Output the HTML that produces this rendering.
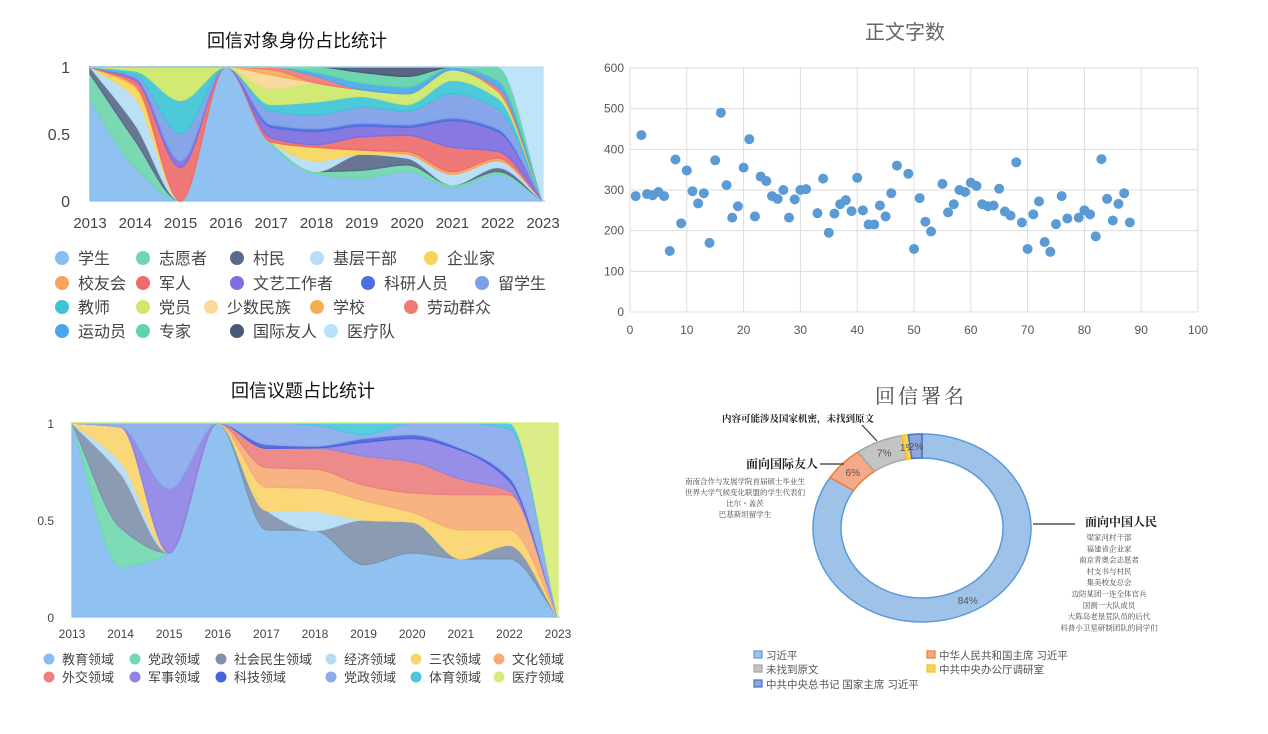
<!DOCTYPE html>
<html><head><meta charset="utf-8">
<style>
body{margin:0;width:1268px;height:734px;background:#fff;overflow:hidden;font-family:"Liberation Sans","Noto Sans CJK SC",sans-serif;}
svg{position:absolute;left:0;top:0}
</style></head>
<body>
<svg id="s" width="1268" height="734"></svg>
<script>
const NS="http://www.w3.org/2000/svg";
const svg=document.getElementById('s');
function el(tag,attrs,parent,text){const e=document.createElementNS(NS,tag);for(const k in attrs)e.setAttribute(k,attrs[k]);if(text!==undefined)e.textContent=text;(parent||svg).appendChild(e);return e;}

// ===== Chart 1 data =====
const years=[2013,2014,2015,2016,2017,2018,2019,2020,2021,2022,2023];
const c1Names=['学生','志愿者','村民','基层干部','企业家','校友会','军人','文艺工作者','科研人员','留学生','教师','党员','少数民族','学校','劳动群众','运动员','专家','国际友人','医疗队'];
const c1Colors=['#87bdf0','#6fd6ad','#5a6a8a','#b5ddf5','#f7d55a','#f7a25e','#ee6c6c','#7e6ee0','#4b6fe0','#7d9ee8','#3fc4d6','#cde86a','#fbd79a','#f5ad52','#f07a74','#4aa8ea','#60d4a8','#4a5878','#b8e2f8'];
const c1_学生=[.75,.25,0,1,.42,.2,.17,.22,.1,.2,0];
const c1_志愿者=[.2,.2,0,0,.02,.02,.06,.05,.02,.02,0];
const c1_村民=[.05,.12,0,0,0,0,.12,.05,0,.03,0];
const c1_基层干部=[0,.2,0,0,0,.08,0,.03,.08,.05,0];
const c1_企业家=[0,.08,0,0,0,.1,.03,0,0,0,0];
const c1_校友会=[0,.02,0,0,0,0,0,.02,.02,.02,0];
const c1_军人=[0,.03,.25,0,.03,.02,.1,.12,.18,.05,0];
const c1_文艺=[0,.02,.05,0,.08,.1,.08,.06,.2,.15,0];
const c1_科研=[0,0,0,0,.02,.02,.02,.02,.02,.02,0];
const c1_留学生=[0,.02,.2,0,.1,.1,.12,.1,.18,.15,0];
const c1_教师=[0,.03,.25,0,.05,.1,.08,.05,.1,.08,0];
const c1_党员=[0,.03,.25,0,.12,.14,.05,.08,.08,.05,0];
const c1_少数民族=[0,0,0,0,.1,0,0,0,0,0,0];
const c1_学校=[0,0,0,0,.04,0,0,0,0,0,0];
const c1_劳动群众=[0,0,0,0,.02,.05,0,0,0,.03,0];
const c1_运动员=[0,0,0,0,0,.03,.05,.05,.02,.05,0];
const c1_专家=[0,0,0,0,0,.04,.08,.08,0,.1,0];
const c1_国际友人=[0,0,0,0,0,0,.04,.07,0,0,0];
const c1_医疗队=[0,0,0,0,0,0,0,0,0,0,1];
const c1Series=[c1_学生,c1_志愿者,c1_村民,c1_基层干部,c1_企业家,c1_校友会,c1_军人,c1_文艺,c1_科研,c1_留学生,c1_教师,c1_党员,c1_少数民族,c1_学校,c1_劳动群众,c1_运动员,c1_专家,c1_国际友人,c1_医疗队];

// ===== Chart 2 data =====
const c2Names=['教育领域','党政领域','社会民生领域','经济领域','三农领域','文化领域','外交领域','军事领域','科技领域','党政领域','体育领域','医疗领域'];
const c2Colors=['#87bdf0','#72d8b0','#8192ae','#b5ddf5','#fad46e','#f7ac78','#ec8080','#8f84e6','#4b63dc','#8aaaea','#4bc8da','#d7ec7c'];
const c2_教育=[1,.26,.33,1,.45,.45,.27,.33,.3,.3,0];
const c2_党政=[0,.2,0,0,0,0,0,0,0,0,0];
const c2_社会民生=[0,.28,0,0,.1,0,.23,.16,0,.07,0];
const c2_经济=[0,.06,0,0,0,.1,0,0,0,0,0];
const c2_三农=[0,.18,0,0,.12,.12,.1,.05,.15,.08,0];
const c2_文化=[0,0,0,0,.1,.1,.08,.1,.18,.18,0];
const c2_外交=[0,0,0,0,.1,.11,.15,.16,.08,.02,0];
const c2_军事=[0,0,.33,0,0,0,.07,.12,.15,.05,0];
const c2_科技=[0,0,0,0,.02,.01,.02,.02,.01,.02,0];
const c2_党政2=[0,.02,.34,0,.11,.11,.02,.06,.13,.25,0];
const c2_体育=[0,0,0,0,0,.01,.06,0,0,.03,0];
const c2_医疗=[0,0,0,0,0,0,0,0,0,0,1];
const c2Series=[c2_教育,c2_党政,c2_社会民生,c2_经济,c2_三农,c2_文化,c2_外交,c2_军事,c2_科技,c2_党政2,c2_体育,c2_医疗];

// ===== Scatter data =====
const scX=[1,2,3,4,5,6,7,8,9,10,11,12,13,14,15,16,17,18,19,20,21,22,23,24,25,26,27,28,29,30,31,33,34,35,36,37,38,39,40,41,42,43,44,45,46,47,49,50,51,52,53,55,56,57,58,59,60,61,62,63,64,65,66,67,68,69,70,71,72,73,74,75,76,77,79,80,81,82,83,84,85,86,87,88];
const scY=[285,435,290,287,295,285,150,375,218,348,297,267,292,170,373,490,312,232,260,355,425,235,333,322,285,278,300,232,277,300,302,243,328,195,242,265,275,248,330,250,215,215,262,235,292,360,340,155,280,222,198,315,245,265,300,295,318,310,265,260,262,303,247,237,368,220,155,240,272,172,148,216,285,230,232,250,240,186,376,278,225,266,292,220];
const scXTicks=[0,10,20,30,40,50,60,70,80,90,100];
const scYTicks=[0,100,200,300,400,500,600];

// ===== Donut data =====
const dnNames=['习近平','中华人民共和国主席 习近平','未找到原文','中共中央办公厅调研室','中共中央总书记 国家主席 习近平'];
const dnValues=[84,6,7,1,2];
const dnLabels=['84%','6%','7%','1%','2%'];
const dnColors=['#9fc3e8','#f4a98a','#c4c4c4','#f7d25c','#8ea6e0'];
const dnStroke=['#5b9bd5','#ed7d31','#a5a5a5','#ffc000','#4472c4'];

// ---- monotone cubic path ----
function monoPath(xs,ys,move){
  const n=xs.length,d=[],m=[];
  for(let i=0;i<n-1;i++)d.push((ys[i+1]-ys[i])/(xs[i+1]-xs[i]));
  for(let i=0;i<n;i++){
    if(i==0)m.push(d[0]);else if(i==n-1)m.push(d[n-2]);
    else m.push(d[i-1]*d[i]<=0?0:2/(1/d[i-1]+1/d[i]));
  }
  let p=(move?'M':'L')+xs[0]+','+ys[0];
  for(let i=0;i<n-1;i++){const h=(xs[i+1]-xs[i])/3;
    p+=`C${xs[i]+h},${ys[i]+m[i]*h} ${xs[i+1]-h},${ys[i+1]-m[i+1]*h} ${xs[i+1]},${ys[i+1]}`;}
  return p;
}

function streamChart(g,series,colors,x0,x1,y0,y1,name){
  const xs=years.map((y,i)=>x0+(x1-x0)*i/(years.length-1));
  const sums=years.map((_,i)=>series.reduce((a,s)=>a+s[i],0)||1);
  let base=years.map(()=>0);
  const Y=v=>y0-(y0-y1)*v;
  series.forEach((s,k)=>{
    const top=base.map((b,i)=>b+s[i]/sums[i]);
    const up=top.map(Y),lo=base.map(Y);
    let p=monoPath(xs,up,true);
    p+=monoPath(xs.slice().reverse(),lo.slice().reverse(),false).replace(/^L/,'L')+'Z';
    const a=el('path',{d:p,fill:colors[k],'fill-opacity':0.92,stroke:colors[k],'stroke-width':1.3},g);
    
    
    base=top;
  });
}

// ===== Chart 1 =====
const g1=el('g',{});
el('text',{x:297,y:47,'text-anchor':'middle','font-size':18,fill:'#111',},g1,'回信对象身份占比统计');
el('line',{x1:90,y1:201,x2:545,y2:201,stroke:'#ccc',},g1);
streamChart(g1,c1Series,c1Colors,90,543,201,67,'identity');
[['1',67],['0.5',134],['0',201]].forEach(t=>el('text',{x:70,y:t[1]+6,'text-anchor':'end','font-size':16,fill:'#444',},g1,t[0]));
years.forEach((y,i)=>el('text',{x:90+45.3*i,y:228,'text-anchor':'middle','font-size':15,fill:'#444',},g1,y));
const l1=[[62,258,0],[143,258,1],[237,258,2],[317,258,3],[431,258,4],[62,283,5],[143,283,6],[237,283,7],[368,283,8],[482,283,9],[62,307,10],[143,307,11],[211,307,12],[317,307,13],[411,307,14],[62,331,15],[143,331,16],[237,331,17],[331,331,18]];
l1.forEach(([x,y,k])=>{const g=el('g',{},g1);
  el('circle',{cx:x,cy:y,r:7,fill:c1Colors[k]},g);
  el('text',{x:x+16,y:y+6,'font-size':16,fill:'#444'},g,c1Names[k]);});

// ===== Chart 2 =====
const g2=el('g',{});
el('text',{x:303,y:397,'text-anchor':'middle','font-size':18,fill:'#111',},g2,'回信议题占比统计');
el('line',{x1:72,y1:617,x2:560,y2:617,stroke:'#ccc',},g2);
streamChart(g2,c2Series,c2Colors,72,558,617,423,'topic');
[['1',423],['0.5',520],['0',617]].forEach(t=>el('text',{x:54,y:t[1]+5,'text-anchor':'end','font-size':12,fill:'#444',},g2,t[0]));
years.forEach((y,i)=>el('text',{x:72+48.6*i,y:638,'text-anchor':'middle','font-size':12,fill:'#444',},g2,y));
const l2x=[49,135,221,331,416,499];
c2Names.forEach((n,k)=>{const x=l2x[k%6],y=k<6?659:677;
  const g=el('g',{},g2);
  el('circle',{cx:x,cy:y,r:5.5,fill:c2Colors[k]},g);
  el('text',{x:x+13,y:y+5,'font-size':13,fill:'#444'},g,n);});

// ===== Scatter =====
const g3=el('g',{});
const sx=v=>630+5.68*v, sy=v=>312-0.4067*v;
el('text',{x:905,y:39,'text-anchor':'middle','font-size':20,fill:'#666',},g3,'正文字数');
scXTicks.forEach(t=>{el('line',{x1:sx(t),y1:sy(0),x2:sx(t),y2:sy(600),stroke:'#ddd',},g3);
  el('text',{x:sx(t),y:334,'text-anchor':'middle','font-size':12,fill:'#555',},g3,t);});
scYTicks.forEach(t=>{el('line',{x1:sx(0),y1:sy(t),x2:sx(100),y2:sy(t),stroke:'#ddd',},g3);
  el('text',{x:624,y:sy(t)+4,'text-anchor':'end','font-size':12,fill:'#555',},g3,t);});
scX.forEach((x,i)=>{const c=el('circle',{cx:sx(x),cy:sy(scY[i]),r:5,fill:'#5b9bd5'},g3);
  
  });

// ===== Donut =====
const g4=el('g',{});
el('text',{x:921,y:403,'text-anchor':'middle','font-size':20,fill:'#444','font-family':'"Liberation Serif","Noto Serif CJK SC",serif','letter-spacing':'3',},g4,'回信署名');
const cx=922,cy=528,rx=109,ry=94,irx=81,iry=70;
const tot=dnValues.reduce((a,b)=>a+b,0);let acc=0;
dnValues.forEach((v,k)=>{
  const a0=acc/tot*2*Math.PI,a1=(acc+v)/tot*2*Math.PI;acc+=v;
  const P=(a,rX,rY)=>[cx+rX*Math.sin(a),cy-rY*Math.cos(a)];
  const lg=(a1-a0)>Math.PI?1:0;
  const [x0,y0]=P(a0,rx,ry),[x1,y1]=P(a1,rx,ry),[x2,y2]=P(a1,irx,iry),[x3,y3]=P(a0,irx,iry);
  const d=`M${x0},${y0}A${rx},${ry} 0 ${lg} 1 ${x1},${y1}L${x2},${y2}A${irx},${iry} 0 ${lg} 0 ${x3},${y3}Z`;
  const s=el('path',{d,fill:dnColors[k],stroke:dnStroke[k],'stroke-width':1.5},g4);
  
  
  const am=(a0+a1)/2,[lx,ly]=P(am,(rx+irx)/2,(ry+iry)/2);
  el('text',{x:lx,y:ly+4,'text-anchor':'middle','font-size':10,fill:'#555',},g4,dnLabels[k]);
});
const serif='"Liberation Serif","Noto Serif CJK SC",serif';
// annotations
el('line',{x1:1033,y1:524,x2:1075,y2:524,stroke:'#333','stroke-width':1.2,},g4);
el('text',{x:1085,y:526,'font-size':12,'font-weight':'bold',fill:'#222','font-family':serif,},g4,'面向中国人民');
['梁家河村干部','福建省企业家','南京青奥会志愿者','村支书与村民','集美校友总会','边防某团一连全体官兵','国测一大队成员','大陈岛老垦荒队员的后代','科普小卫星研制团队的同学们'].forEach((t,i)=>
  el('text',{x:1109,y:540+i*11.3,'text-anchor':'middle','font-size':7.5,fill:'#444','font-family':serif,},g4,t));
el('line',{x1:820,y1:464,x2:844,y2:464,stroke:'#333','stroke-width':1.2,},g4);
el('text',{x:746,y:468,'font-size':12,'font-weight':'bold',fill:'#222','font-family':serif,},g4,'面向国际友人');
['南南合作与发展学院首届硕士毕业生','世界大学气候变化联盟的学生代表们','比尔・盖茨','巴基斯坦留学生'].forEach((t,i)=>
  el('text',{x:745,y:484+i*11,'text-anchor':'middle','font-size':7.5,fill:'#444','font-family':serif,},g4,t));
el('line',{x1:862,y1:425,x2:877,y2:441,stroke:'#333','stroke-width':1.2,},g4);
el('text',{x:722,y:422,'font-size':9.5,'font-weight':'bold',fill:'#222','font-family':serif,},g4,'内容可能涉及国家机密，未找到原文');
// legend
const dl=[[754,655],[927,655],[754,669],[927,669],[754,684]];
dnNames.forEach((n,k)=>{const g=el('g',{},g4);
  el('rect',{x:dl[k][0],y:dl[k][1]-4,width:8,height:7,fill:dnColors[k],stroke:dnStroke[k],'stroke-width':1.2},g);
  el('text',{x:dl[k][0]+12,y:dl[k][1]+4,'font-size':10.5,fill:'#555'},g,n);});
</script>
</body></html>
